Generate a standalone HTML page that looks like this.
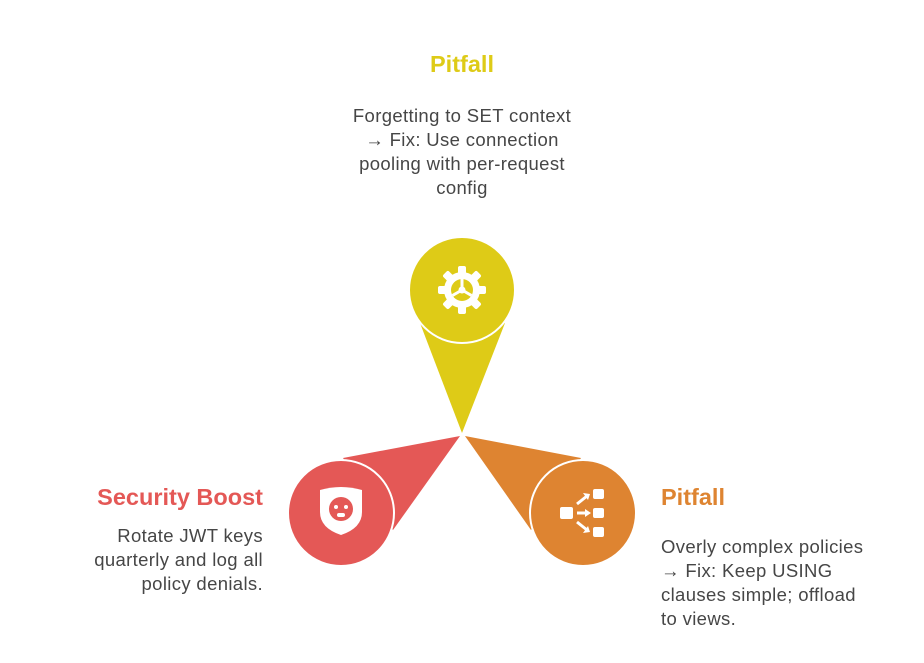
<!DOCTYPE html>
<html><head><meta charset="utf-8"><style>
html,body{margin:0;padding:0;background:#fff;}
body{width:924px;height:663px;position:relative;overflow:hidden;font-family:"Liberation Sans",sans-serif;}
.t{position:absolute;font-weight:bold;font-size:23.5px;line-height:26px;}
.b{position:absolute;font-size:18.5px;letter-spacing:0.35px;line-height:24px;color:#464646;}
</style></head><body>
<svg width="924" height="663" style="position:absolute;left:0;top:0">
  <polygon points="420,323 505,323 462,433" fill="#DECB17"/>
  <circle cx="462" cy="290" r="53" fill="#DECB17" stroke="#fff" stroke-width="2"/>
  <polygon points="343,458 393,530 460,436" fill="#E45856"/>
  <circle cx="341" cy="513" r="53" fill="#E45856" stroke="#fff" stroke-width="2"/>
  <polygon points="581,458 531,530 465,436" fill="#DE8431"/>
  <circle cx="583" cy="513" r="53" fill="#DE8431" stroke="#fff" stroke-width="2"/>
  <g transform="translate(462,290)" fill="#fff">
    <g>
      <rect x="-4" y="-24" width="8" height="48" rx="2"/>
      <rect x="-4" y="-24" width="8" height="48" rx="2" transform="rotate(45)"/>
      <rect x="-4" y="-24" width="8" height="48" rx="2" transform="rotate(90)"/>
      <rect x="-4" y="-24" width="8" height="48" rx="2" transform="rotate(135)"/>
    </g>
    <circle r="18"/>
    <circle r="11" fill="#DECB17"/>
    <rect x="-1.5" y="-11" width="3" height="11"/>
    <rect x="-1.5" y="-11" width="3" height="11" transform="rotate(120)"/>
    <rect x="-1.5" y="-11" width="3" height="11" transform="rotate(240)"/>
    <circle r="3.5"/>
  </g>
  <g transform="translate(341,510)">
    <path d="M-21,-20 Q0,-26 21,-20 L21,2 Q21,18 0,25 Q-21,18 -21,2 Z" fill="#fff"/>
    <circle cx="0" cy="-1" r="12" fill="#E45856"/>
    <circle cx="-5" cy="-3" r="2" fill="#fff"/>
    <circle cx="5" cy="-3" r="2" fill="#fff"/>
    <rect x="-4" y="3" width="8" height="4" rx="2" fill="#fff"/>
  </g>
  <g transform="translate(583,513)" fill="#fff" stroke="#fff">
    <rect x="-23" y="-6" width="13" height="12" rx="2" stroke="none"/>
    <rect x="10" y="-24" width="11" height="10" rx="2" stroke="none"/>
    <rect x="10" y="-5" width="11" height="10" rx="2" stroke="none"/>
    <rect x="10" y="14" width="11" height="10" rx="2" stroke="none"/>
    <line x1="-6" y1="-9" x2="4" y2="-17" stroke-width="3"/>
    <line x1="-6" y1="0" x2="4" y2="0" stroke-width="3"/>
    <line x1="-6" y1="9" x2="4" y2="17" stroke-width="3"/>
    <polygon points="7,-19 0,-20 5,-13" stroke="none"/>
    <polygon points="8,0 2,-4 2,4" stroke="none"/>
    <polygon points="7,19 0,20 5,13" stroke="none"/>
  </g>
</svg>
<div class="t" style="left:362px;top:51px;width:200px;text-align:center;color:#DECB17">Pitfall</div>
<div class="b" style="left:302px;top:104px;width:320px;text-align:center">Forgetting to SET context<br>→ Fix: Use connection<br>pooling with per-request<br>config</div>
<div class="t" style="left:43px;top:484px;width:220px;text-align:right;color:#E45856">Security Boost</div>
<div class="b" style="left:3px;top:524px;width:260px;text-align:right">Rotate JWT keys<br>quarterly and log all<br>policy denials.</div>
<div class="t" style="left:661px;top:484px;width:200px;color:#DE8431">Pitfall</div>
<div class="b" style="left:661px;top:535px;width:263px">Overly complex policies<br>→ Fix: Keep USING<br>clauses simple; offload<br>to views.</div>
</body></html>
